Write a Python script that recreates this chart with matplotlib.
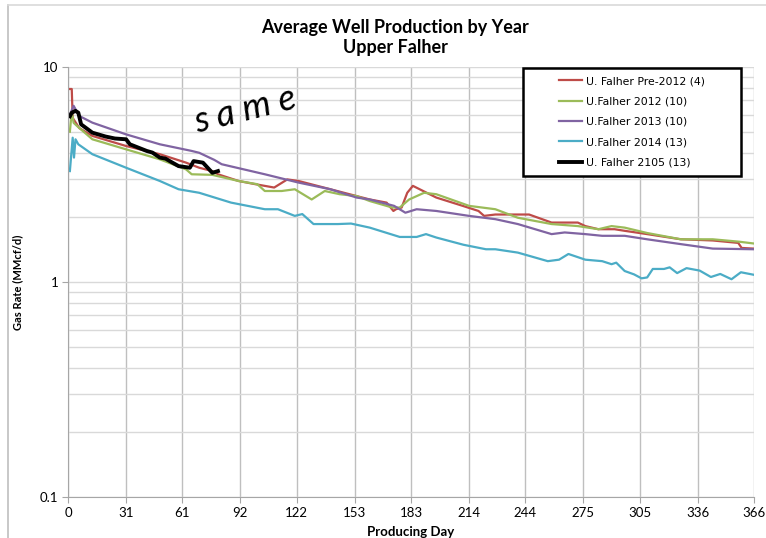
import numpy as np
import matplotlib
matplotlib.use("Agg")
from matplotlib import pyplot as plt
from matplotlib.ticker import NullFormatter
from matplotlib.patches import Rectangle

## Data (producing day, gas rate MMcf/d)

x_ticks = [0, 31, 61, 92, 122, 153, 183, 214, 244, 275, 305, 336, 366]

pre2012_days = [1, 2, 2.5, 6, 13, 31, 49, 63, 70, 77, 80, 91, 100, 110, 117, 123, 140, 154,
                161, 170, 173.6, 175, 178, 181, 184, 189.5, 196.5, 210.6, 219, 222, 228, 240,
                246, 258, 272, 276, 283, 291.6, 297, 309, 327, 344, 357.6, 359.4, 366]
pre2012_rate = [7.9, 7.9, 5.8, 5.2, 4.78, 4.29, 3.93, 3.59, 3.40, 3.28, 3.17, 2.95, 2.85, 2.75,
                3.00, 2.95, 2.70, 2.51, 2.42, 2.34, 2.14, 2.18, 2.22, 2.60, 2.80, 2.65, 2.47,
                2.26, 2.14, 2.03, 2.06, 2.06, 2.06, 1.89, 1.89, 1.82, 1.76, 1.76, 1.73, 1.67,
                1.58, 1.56, 1.52, 1.44, 1.43]

y2012_days = [1, 2, 3, 5, 13, 31, 49, 63, 66, 77, 91, 101, 105, 114, 121, 130, 137, 145, 154,
              161, 173, 177, 182, 190, 196.5, 214, 228, 240, 258, 272, 283, 290, 297, 309,
              327, 344, 358, 366]
y2012_rate = [5.0, 6.2, 5.5, 5.3, 4.61, 4.14, 3.72, 3.34, 3.17, 3.15, 2.95, 2.85, 2.65, 2.65,
              2.70, 2.42, 2.65, 2.56, 2.51, 2.38, 2.22, 2.22, 2.42, 2.60, 2.56, 2.26, 2.18,
              1.99, 1.86, 1.82, 1.76, 1.82, 1.79, 1.69, 1.58, 1.58, 1.54, 1.51]

y2013_days = [1, 3, 6, 13, 31, 49, 66, 70, 78, 82, 105, 123, 140, 154, 161, 174, 180, 186,
              196.5, 214, 228, 240, 258, 265, 276, 285, 297, 309, 327, 344, 366]
y2013_rate = [6.0, 6.6, 5.92, 5.51, 4.86, 4.37, 4.07, 3.99, 3.70, 3.53, 3.17, 2.90, 2.70,
              2.47, 2.42, 2.26, 2.10, 2.18, 2.14, 2.03, 1.96, 1.86, 1.67, 1.70, 1.67, 1.64,
              1.64, 1.58, 1.50, 1.43, 1.42]

y2014_days = [1, 2.5, 3.2, 4, 5.5, 13, 31, 49, 59, 70, 87, 105, 112, 121, 125, 131, 144, 151,
              161, 177, 186, 191, 196.5, 211, 223, 228, 240, 256, 262, 267, 276, 285, 290,
              292.5, 297, 302, 306, 309, 312, 318, 321, 325, 330, 337, 343, 348, 354, 359, 366]
y2014_rate = [3.28, 4.69, 3.79, 4.61, 4.37, 3.93, 3.40, 2.95, 2.70, 2.60, 2.34, 2.18, 2.18,
              2.03, 2.07, 1.86, 1.86, 1.87, 1.79, 1.62, 1.62, 1.67, 1.61, 1.49, 1.42, 1.42,
              1.37, 1.25, 1.27, 1.35, 1.27, 1.25, 1.21, 1.23, 1.125, 1.085, 1.04, 1.05, 1.15,
              1.15, 1.17, 1.10, 1.16, 1.13, 1.055, 1.09, 1.03, 1.11, 1.08]

y2105_days = [1, 2, 4, 5.5, 7, 13, 20, 25, 31, 33, 42, 45, 49, 52, 55, 59, 65, 67, 72, 77, 80]
y2105_rate = [5.9, 6.13, 6.25, 6.13, 5.41, 4.95, 4.75, 4.65, 4.61, 4.37, 4.07, 4.0, 3.79,
              3.75, 3.62, 3.46, 3.40, 3.65, 3.59, 3.22, 3.28]

series = [
	("U. Falher Pre-2012 (4)", pre2012_days, pre2012_rate, "#BE4B48", 1.6),
	("U.Falher 2012 (10)", y2012_days, y2012_rate, "#9BBB59", 1.6),
	("U.Falher 2013 (10)", y2013_days, y2013_rate, "#8064A2", 1.6),
	("U.Falher 2014 (13)", y2014_days, y2014_rate, "#4BACC6", 1.6),
	("U. Falher 2105 (13)", y2105_days, y2105_rate, "#000000", 2.8),
]

plt.rcParams['font.family'] = ['Lato', 'DejaVu Sans']

fig = plt.figure(figsize=(7.66, 5.38), dpi=100)
ax = fig.add_axes([68/766, 41/538, 686/766, 430/538])

for name, d, r, c, lw in series:
	ax.plot(d, r, color=c, lw=lw, label=name, solid_joinstyle='round')

ax.set_yscale('log')
ax.set_ylim(0.1, 10)
ax.set_xlim(0, 366)
ax.set_xticks(x_ticks)
ax.set_xticklabels([str(t) for t in x_ticks])
ax.set_yticks([0.1, 1, 10])
ax.set_yticklabels(['0.1', '1', '10'])
ax.yaxis.set_minor_formatter(NullFormatter())

# gridlines (Excel look)
ax.grid(True, which='major', axis='x', color='#BFBFBF', lw=1.0)
ax.grid(True, which='major', axis='y', color='#D9D9D9', lw=1.0)
ax.grid(True, which='minor', axis='y', color='#D9D9D9', lw=1.0)
ax.set_axisbelow(True)
ax.tick_params(axis='y', which='minor', length=0)
ax.tick_params(axis='both', which='major', length=4, color='#A6A6A6', labelsize=9.5, pad=3)
for s in ['top', 'right']:
	ax.spines[s].set_visible(False)
for s in ['left', 'bottom']:
	ax.spines[s].set_color('#A6A6A6')

ax.set_xlabel('Producing Day', fontsize=9.5, fontweight='bold', labelpad=5)
ax.set_ylabel('Gas Rate (MMcf/d)', fontsize=8, fontweight='bold', labelpad=12)

# legend: Excel style box, wider than its entries
box_x0, box_x1 = 0.663, 0.981
box_y0, box_y1 = 0.747, 0.998
ax.add_patch(Rectangle((box_x0, box_y0), box_x1 - box_x0, box_y1 - box_y0,
                       transform=ax.transAxes, facecolor='white', edgecolor='black',
                       lw=1.8, zorder=4))
leg = ax.legend(loc='center', bbox_to_anchor=((box_x0 + box_x1) / 2, (box_y0 + box_y1) / 2),
                borderaxespad=0, prop={'family': 'DejaVu Sans', 'size': 7.8}, frameon=False,
                handlelength=2.2, handletextpad=0.35, labelspacing=0.95, borderpad=0)
leg.set_zorder(5)

fig.text(395/766, 1 - 28/538, 'Average Well Production by Year', ha='center', va='center',
         fontsize=13, fontweight='bold')
fig.text(395/766, 1 - 48/538, 'Upper Falher', ha='center', va='center',
         fontsize=13, fontweight='bold')

# handwritten note
fig.text(245/766, 1 - 110/538, 's a m e', ha='center', va='center', fontsize=26,
         rotation=14, color='black', fontstyle='italic')

# screenshot border
fig.add_artist(plt.Line2D([8/766, 8/766], [0, 1 - 5/538], transform=fig.transFigure,
                          color='#BFBFBF', lw=1.2))
fig.add_artist(plt.Line2D([8/766, 1], [1 - 5/538, 1 - 5/538], transform=fig.transFigure,
                          color='#D9D9D9', lw=1.2))

fig.savefig('out.png', dpi=100)
